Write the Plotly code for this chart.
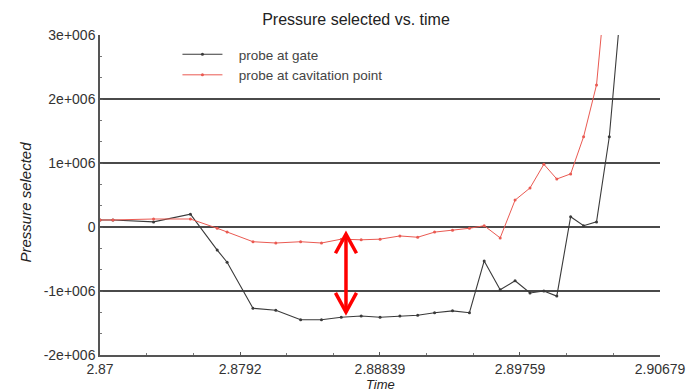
import plotly.graph_objects as go

time = [2.87000, 2.87085, 2.87352, 2.87594, 2.87770, 2.87835, 2.88005, 2.88155,
        2.88318, 2.88455, 2.88585, 2.88716, 2.88840, 2.88970, 2.89087, 2.89198,
        2.89316, 2.89427, 2.89524, 2.89629, 2.89727, 2.89825, 2.89916, 2.90001,
        2.90092, 2.90177, 2.90262, 2.90346, 2.90431]

probe_gate = [0.11e6, 0.11e6, 0.08e6, 0.20e6, -0.36e6, -0.55e6, -1.27e6, -1.30e6,
              -1.45e6, -1.45e6, -1.41e6, -1.39e6, -1.41e6, -1.39e6, -1.38e6, -1.34e6,
              -1.31e6, -1.34e6, -0.53e6, -0.98e6, -0.84e6, -1.03e6, -1.00e6, -1.08e6,
              0.16e6, 0.02e6, 0.08e6, 1.41e6, 3.7e6]

probe_cavitation = [0.11e6, 0.11e6, 0.125e6, 0.125e6, -0.02e6, -0.08e6, -0.23e6, -0.25e6,
                    -0.23e6, -0.25e6, -0.19e6, -0.20e6, -0.19e6, -0.14e6, -0.16e6, -0.08e6,
                    -0.05e6, -0.02e6, 0.02e6, -0.17e6, 0.42e6, 0.61e6, 0.98e6, 0.75e6,
                    0.83e6, 1.41e6, 2.22e6, 4.2e6, 6.5e6]

x_tickvals = [2.87, 2.8792, 2.88839, 2.89759, 2.90679]
x_ticktext = ["2.87", "2.8792", "2.88839", "2.89759", "2.90679"]
y_tickvals = [-2e6, -1e6, 0, 1e6, 2e6, 3e6]
y_ticktext = ["-2e+006", "-1e+006", "0", "1e+006", "2e+006", "3e+006"]

# arrow annotation (time position and pressure extent)
arrow_x = 2.88616
arrow_top = -0.11e6
arrow_bottom = -1.33e6
arrow_dx = 0.00069
arrow_dy = 0.30e6

x_minor = []
for a, b in zip(x_tickvals[:-1], x_tickvals[1:]):
    x_minor += [a + (b - a) / 3, a + 2 * (b - a) / 3]
y_minor = []
for a, b in zip(y_tickvals[:-1], y_tickvals[1:]):
    y_minor += [a + (b - a) / 3, a + 2 * (b - a) / 3]

FONT = "Liberation Sans, Arial, sans-serif"
NB = "\u00a0\u00a0\u00a0"

fig = go.Figure()
fig.add_trace(go.Scatter(x=time, y=probe_gate, mode="lines+markers", name=NB + "probe at gate",
                         line=dict(color="#3a3a3a", width=1.1),
                         marker=dict(size=3, color="#3a3a3a")))
fig.add_trace(go.Scatter(x=time, y=probe_cavitation, mode="lines+markers",
                         name=NB + "probe at cavitation point",
                         line=dict(color="#ea5a52", width=1.0),
                         marker=dict(size=3, color="#ea5a52")))

red = "#ff0000"
fig.add_shape(type="line", x0=arrow_x, x1=arrow_x, y0=arrow_top, y1=arrow_bottom,
              xref="x", yref="y", line=dict(color=red, width=3.5))
fig.add_shape(type="path", xref="x", yref="y",
              path=f"M {arrow_x - arrow_dx},{arrow_top - arrow_dy} L {arrow_x},{arrow_top} L {arrow_x + arrow_dx},{arrow_top - arrow_dy}",
              line=dict(color=red, width=3.5))
fig.add_shape(type="path", xref="x", yref="y",
              path=f"M {arrow_x - arrow_dx},{arrow_bottom + arrow_dy} L {arrow_x},{arrow_bottom} L {arrow_x + arrow_dx},{arrow_bottom + arrow_dy}",
              line=dict(color=red, width=3.5))

fig.update_layout(
    width=698, height=391,
    margin=dict(l=100, r=34, t=35, b=36),
    paper_bgcolor="white", plot_bgcolor="white",
    font=dict(family=FONT, size=14, color="#333333"),
    title=dict(text="Pressure selected vs. time", x=356 / 698, xanchor="center",
               y=1 - 19 / 391, yanchor="middle", font=dict(size=16, color="#222222")),
    showlegend=True,
    legend=dict(x=(178 - 100) / 564, y=(355 - 39) / 320, xanchor="left", yanchor="top",
                bgcolor="rgba(0,0,0,0)", font=dict(size=13.5, color="#444444"),
                itemwidth=40, tracegroupgap=0),
    xaxis=dict(range=[2.87, 2.90679], tickvals=x_tickvals, ticktext=x_ticktext,
               showgrid=False, zeroline=False, showline=True, linecolor="#555555",
               linewidth=1.5, ticks="inside", ticklen=3, tickcolor="#555555",
               minor=dict(tickvals=x_minor, ticks="inside", ticklen=2, tickcolor="#777777"),
               tickfont=dict(size=14, color="#333333")),
    yaxis=dict(range=[-2e6, 3e6], tickvals=y_tickvals, ticktext=y_ticktext,
               showgrid=True, gridcolor="#4a4a4a", gridwidth=1.6, zeroline=False,
               showline=True, linecolor="#555555", linewidth=1.5,
               ticks="inside", ticklen=3, tickcolor="#555555",
               minor=dict(tickvals=y_minor, ticks="inside", ticklen=2, tickcolor="#777777"),
               tickfont=dict(size=14, color="#333333")),
    annotations=[
        dict(text="<i>Time</i>", x=(383 - 100) / 564, y=(355 - 384.5) / 320,
             xref="paper", yref="paper",
             xanchor="center", yanchor="middle", showarrow=False,
             font=dict(size=13, color="#222222")),
        dict(text="<i>Pressure selected</i>", x=(24 - 100) / 564, y=(355 - 202) / 320,
             xref="paper", yref="paper", xanchor="center", yanchor="middle",
             showarrow=False, textangle=-90, font=dict(size=15, color="#222222")),
    ],
)

fig.write_html("out.html")
